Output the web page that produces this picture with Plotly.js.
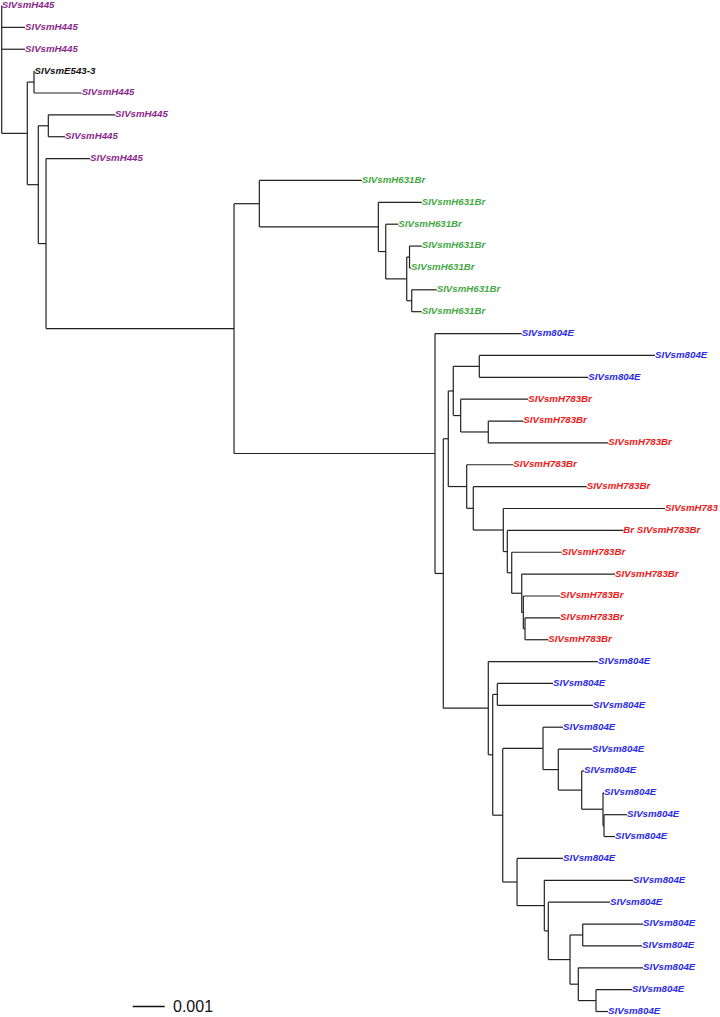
<!DOCTYPE html>
<html>
<head>
<meta charset="utf-8">
<script src="https://cdn.plot.ly/plotly-3.0.1.min.js"></script>
<style>
  html, body { margin: 0; padding: 0; background: #ffffff; }
  #chart { width: 720px; height: 1017px; }
</style>
</head>
<body>
<div id="chart"></div>
<script>
// Tree topology with branch lengths (substitutions/site)
const treeNewick =
  "(SIVsmH445:0,SIVsmH445:0.000728,SIVsmH445:0.000728," +
  "((SIVsmE543-3:0.000016,SIVsmH445:0.00149):0.000209," +
  "((SIVsmH445:0.002084,SIVsmH445:0.000522):0.000313," +
  "(SIVsmH445:0.001375," +
  "((SIVsmH631Br:0.0032," +
   "(SIVsmH631Br:0.001356," +
    "(SIVsmH631Br:0.000394," +
     "((SIVsmH631Br:0.000381,SIVsmH631Br:0.000047):0.0000875," +
      "(SIVsmH631Br:0.000781,SIVsmH631Br:0.000313):0.000156):0.000656):0.000231):0.003719):0.000791," +
  "(SIVsm804E:0.002709," +
   "(((" +
      "(SIVsm804E:0.005491,SIVsm804E:0.003406):0.000813," +
      "(SIVsmH783Br:0.002113,(SIVsmH783Br:0.001094,SIVsmH783Br:0.00375):0.000863):0.000231" +
     "):0.000156," +
     "(SIVsmH783Br:0.001456," +
      "(SIVsmH783Br:0.003544," +
       "(SIVsmH783:0.005053," +
        "(Br SIVsmH783Br:0.003625," +
         "(SIVsmH783Br:0.001563," +
          "(SIVsmH783Br:0.002916," +
           "(SIVsmH783Br:0.001147," +
            "(SIVsmH783Br:0.001094,SIVsmH783Br:0.000728):0.000053" +
           "):0.00005):0.000313):0.000138):0.000125):0.000938):0.000206):0.000575" +
    "):0.000156," +
    "(SIVsm804E:0.003428," +
     "((SIVsm804E:0.001741,SIVsm804E:0.002991):0.000144," +
      "((SIVsm804E:0.000625," +
        "(SIVsm804E:0.001053," +
         "(SIVsm804E:0.000072," +
          "(SIVsm804E:0.000031,(SIVsm804E:0.000719,SIVsm804E:0.000344):0.000031):0.000666" +
         "):0.000731):0.000478):0.001259," +
       "(SIVsm804E:0.001438," +
        "(SIVsm804E:0.002772," +
         "(SIVsm804E:0.001928," +
          "((SIVsm804E:0.001884,SIVsm804E:0.001853):0.000397," +
           "(SIVsm804E:0.002022,(SIVsm804E:0.001125,SIVsm804E:0.000375):0.000553):0.000259" +
          "):0.000678):0.000125):0.000853):0.000447" +
      "):0.000313):0.000138):0.001406" +
   "):0.000259):0.006281):0.005875):0.000241):0.000344):0.0008);";

// Label groups and their colours
const groupKeys   = ["H445", "E543", "H631", "804E", "H783"];
const groupColors = ["#8b2a8b", "#111111", "#45a845", "#2a2ae8", "#f01818"];

// Scale bar
const scaleBarLength = 0.001;
const scaleBarLabel  = "0.001";

function parseNewick(s) {
  let i = 0;
  const ws = () => { while (i < s.length && /\s/.test(s[i])) i++; };
  function node() {
    ws();
    const n = { children: [], name: "", len: 0 };
    if (s[i] === "(") {
      i++;
      n.children.push(node()); ws();
      while (s[i] === ",") { i++; n.children.push(node()); ws(); }
      i++; // ')'
    }
    let name = "";
    while (i < s.length && !",():;".includes(s[i])) name += s[i++];
    n.name = name.trim();
    if (s[i] === ":") {
      i++;
      let num = "";
      while (i < s.length && !",();".includes(s[i])) num += s[i++];
      n.len = parseFloat(num);
    }
    return n;
  }
  return node();
}

const root = parseNewick(treeNewick);
let tipIndex = 0;
const tips = [];
function layout(n, px) {
  n.x = px + n.len;
  if (n.children.length === 0) {
    n.y = tipIndex++;
    tips.push(n);
  } else {
    n.children.forEach(c => layout(c, n.x));
    n.y = (n.children[0].y + n.children[n.children.length - 1].y) / 2;
  }
  n.px = px;
}
layout(root, 0);

const lx = [], ly = [];
function edges(n) {
  if (n !== root) { lx.push(n.px, n.x, null); ly.push(n.y, n.y, null); }
  if (n.children.length) {
    const a = n.children[0].y, b = n.children[n.children.length - 1].y;
    lx.push(n.x, n.x, null); ly.push(a, b, null);
    n.children.forEach(edges);
  }
}
edges(root);

const traces = [{
  x: lx, y: ly, mode: "lines", type: "scatter",
  line: { color: "#222222", width: 1.2 },
  hoverinfo: "skip", showlegend: false
}];

groupKeys.forEach((k, gi) => {
  const sel = tips.filter(t => t.name.includes(k));
  traces.push({
    x: sel.map(t => t.x), y: sel.map(t => t.y),
    text: sel.map(t => t.name),
    mode: "text", type: "scatter", textposition: "middle right",
    cliponaxis: false,
    textfont: { family: "Liberation Sans, Arial, sans-serif", size: 9.7,
                color: groupColors[gi], style: "italic", weight: "bold" },
    hoverinfo: "text", showlegend: false
  });
});

// pixel geometry of plotting area -> data ranges
const W = 720, H = 1017;
const pxPerUnit = 32000;      // 0.001 -> 32 px
const rootPx = 1.7;
const tipTop = 5.5, tipStep = 21.87;
const xr = [-rootPx / pxPerUnit, (W - rootPx) / pxPerUnit];
const yr = [(H - tipTop) / tipStep, -tipTop / tipStep];

const sbX0 = 131 / pxPerUnit;
const sbY  = (1006.5 - tipTop) / tipStep;

const layoutObj = {
  width: W, height: H,
  margin: { l: 0, r: 0, t: 0, b: 0, pad: 0 },
  paper_bgcolor: "#ffffff", plot_bgcolor: "#ffffff",
  xaxis: { range: xr, visible: false, fixedrange: true },
  yaxis: { range: yr, visible: false, fixedrange: true },
  showlegend: false,
  shapes: [{
    type: "line", xref: "x", yref: "y",
    x0: sbX0, x1: sbX0 + scaleBarLength, y0: sbY, y1: sbY,
    line: { color: "#111111", width: 1.3 }
  }],
  annotations: [{
    xref: "x", yref: "y", x: sbX0 + scaleBarLength * 1.2, y: sbY,
    text: scaleBarLabel, showarrow: false, xanchor: "left", yanchor: "middle",
    font: { family: "Liberation Sans, Arial, sans-serif", size: 16, color: "#111111" }
  }]
};

Plotly.newPlot("chart", traces, layoutObj, { staticPlot: true, displayModeBar: false });
</script>
</body>
</html>
